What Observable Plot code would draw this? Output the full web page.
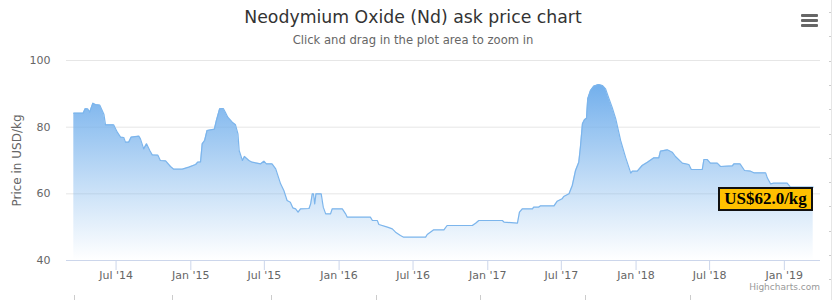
<!DOCTYPE html>
<html>
<head>
<meta charset="utf-8">
<script src="https://cdn.jsdelivr.net/npm/d3@7"></script>
<script src="https://cdn.jsdelivr.net/npm/@observablehq/plot@0.6"></script>
<style>
  body { margin: 0; background: #fff; font-family: "Lucida Grande", "DejaVu Sans", sans-serif; }
  #wrap { position: relative; width: 832px; height: 300px; overflow: hidden; }
  #head { position: relative; height: 48px; }
  #title { position: absolute; left: 0; top: 6px; width: 826px; text-align: center; font-size: 17.3px; line-height: 22px; color: #333; }
  #sub { position: absolute; left: 0; top: 32px; width: 826px; text-align: center; font-size: 11.6px; line-height: 16px; color: #666; }
  #menu { position: absolute; left: 801px; top: 14px; width: 17px; }
  #menu div { height: 3px; background: #666; margin-bottom: 2px; border-radius: 1px; }
  #credit { position: absolute; right: 12px; top: 282px; font-size: 9px; line-height: 11px; color: #999; }
  #badge { position: absolute; left: 718px; top: 187px; width: 95px; height: 24px; box-sizing: border-box;
           background: #ffc000; border: 2px solid #111; font-family: "Liberation Serif", "Times New Roman", serif;
           font-weight: bold; font-size: 17px; line-height: 20px; text-align: center; color: #000; }
  #edge { position: absolute; left: 831px; top: 0; width: 1px; height: 300px; background: #e6e6e6; }
  .rt { position: absolute; left: 829px; width: 2px; height: 1px; background: #ccc; }
  .bt { position: absolute; top: 295px; width: 1px; height: 5px; background: #ccc; }
  #chart svg { display: block; }
</style>
</head>
<body>
<div id="wrap">
  <div id="head">
    <div id="title">Neodymium Oxide (Nd) ask price chart</div>
    <div id="sub">Click and drag in the plot area to zoom in</div>
    <div id="menu"><div></div><div></div><div></div></div>
  </div>
  <div id="chart"></div>
  <div id="badge">US$62.0/kg</div>
  <div id="credit">Highcharts.com</div>
  <div id="edge"></div>
</div>
<script>
const dates = [
  "2014-03-19","2014-04-11","2014-04-16","2014-04-22","2014-04-27","2014-05-05","2014-05-11","2014-05-22",
  "2014-06-01","2014-06-05","2014-06-25","2014-07-04","2014-07-12","2014-07-20","2014-07-24","2014-08-01",
  "2014-08-07","2014-08-26","2014-08-30","2014-09-07","2014-09-14","2014-09-22","2014-09-28","2014-10-12",
  "2014-10-18","2014-10-31","2014-11-12","2014-11-20","2014-12-11","2014-12-27","2015-01-13","2015-01-18",
  "2015-01-25","2015-01-29","2015-02-04","2015-02-10","2015-02-28","2015-03-05","2015-03-13","2015-03-22",
  "2015-03-27","2015-04-02","2015-04-13","2015-04-21","2015-04-27","2015-04-30","2015-05-08","2015-05-13",
  "2015-05-24","2015-06-01","2015-06-22","2015-06-30","2015-07-06","2015-07-20","2015-07-29","2015-08-02",
  "2015-08-10","2015-08-18","2015-08-26","2015-09-03","2015-09-09","2015-09-16","2015-09-22","2015-09-28",
  "2015-10-19","2015-10-23","2015-10-27","2015-10-30","2015-11-02","2015-11-05","2015-11-18","2015-11-23",
  "2015-11-29","2015-12-11","2015-12-15","2016-01-09","2016-01-17","2016-01-21","2016-03-18","2016-03-23",
  "2016-04-04","2016-04-08","2016-04-29","2016-05-11","2016-05-19","2016-05-31","2016-06-08","2016-08-01",
  "2016-08-05","2016-08-21","2016-09-15","2016-09-23","2016-11-24","2016-12-02","2016-12-10","2017-02-06",
  "2017-02-10","2017-03-15","2017-03-20","2017-03-27","2017-04-21","2017-04-24","2017-05-06","2017-05-11",
  "2017-06-13","2017-06-21","2017-07-03","2017-07-07","2017-07-20","2017-07-28","2017-08-05","2017-08-13",
  "2017-08-17","2017-08-22","2017-08-27","2017-09-01","2017-09-04","2017-09-11","2017-09-19","2017-10-01",
  "2017-10-10","2017-10-18","2017-10-25","2017-11-03","2017-11-12","2017-11-24","2017-12-06","2017-12-19",
  "2017-12-23","2018-01-04","2018-01-16","2018-01-29","2018-02-14","2018-02-26","2018-03-02","2018-03-19",
  "2018-03-31","2018-04-08","2018-04-25","2018-05-11","2018-05-17","2018-06-13","2018-06-17","2018-06-25",
  "2018-07-03","2018-07-20","2018-07-28","2018-08-26","2018-08-30","2018-09-14","2018-09-25","2018-10-10",
  "2018-10-18","2018-11-16","2018-11-20","2018-11-28","2018-12-06","2019-01-08","2019-01-16","2019-03-13"
];
const prices = [
  84.2, 84.2, 85.5, 85.5, 84.5, 87.2, 86.8, 86.6,
  83.9, 80.7, 80.7, 78.5, 77.0, 76.9, 75.5, 75.5,
  77.0, 77.3, 76.5, 73.5, 75.0, 73.0, 71.7, 71.6,
  70.0, 69.9, 68.2, 67.4, 67.4, 68.0, 68.8, 69.5,
  69.6, 75.0, 76.0, 79.0, 79.4, 82.0, 85.5, 85.6,
  84.5, 83.0, 81.5, 80.7, 78.0, 73.0, 70.0, 71.2,
  70.0, 69.5, 69.0, 69.8, 69.0, 69.0, 67.5, 66.0,
  63.0, 61.0, 58.0, 57.5, 55.8, 55.5, 54.5, 55.5,
  55.6, 57.0, 60.0, 60.0, 57.0, 60.0, 60.0, 56.0,
  54.0, 54.0, 55.5, 55.5, 54.0, 53.0, 53.0, 52.0,
  52.0, 50.8, 50.0, 49.5, 48.5, 47.5, 47.0, 47.0,
  47.8, 49.2, 49.2, 50.5, 50.5, 51.2, 52.0, 52.0,
  51.5, 51.2, 54.5, 55.5, 55.5, 56.0, 56.0, 56.4,
  56.4, 57.8, 58.5, 59.2, 60.0, 62.5, 67.0, 69.5,
  74.0, 81.0, 82.2, 82.7, 88.5, 91.0, 92.3, 92.8,
  92.5, 91.5, 89.0, 86.0, 82.5, 76.0, 71.0, 66.2,
  66.8, 66.8, 68.5, 69.5, 70.8, 70.8, 72.8, 73.2,
  72.5, 71.2, 69.2, 68.8, 67.3, 67.3, 70.3, 70.3,
  69.2, 69.2, 68.2, 68.4, 69.0, 69.0, 67.0, 66.8,
  66.3, 66.3, 64.8, 63.0, 63.2, 63.2, 62.0, 62.0
];
const tickDates = ["2014-07-01","2015-01-01","2015-07-01","2016-01-01","2016-07-01",
                   "2017-01-01","2017-07-01","2018-01-01","2018-07-01","2019-01-01"];
const tickLabels = ["Jul '14","Jan '15","Jul '15","Jan '16","Jul '16",
                    "Jan '17","Jul '17","Jan '18","Jul '18","Jan '19"];
const yTicks = [40, 60, 80, 100];
const yGrid = [60, 80, 100];
const yLabel = "Price in USD/kg";

const data = dates.map((d, i) => ({date: new Date(d), price: prices[i]}));
const ticks = tickDates.map(d => new Date(d));
const labelOf = new Map(ticks.map((d, i) => [+d, tickLabels[i]]));

// page decoration (scroll-track marks at the right edge and bottom of the screenshot)
const wrap = document.getElementById("wrap");
for (let k = 0; k < 12; k++) {
  const t = document.createElement("div"); t.className = "rt"; t.style.top = (12 + k * 24.3).toFixed(1) + "px"; wrap.appendChild(t);
}
[74, 172, 271, 376, 480, 585, 690].forEach(x => {
  const t = document.createElement("div"); t.className = "bt"; t.style.left = x + "px"; wrap.appendChild(t);
});

const gradientDefs = () => {
  const defs = d3.create("svg:defs");
  const lg = defs.append("linearGradient").attr("id", "ndFill")
    .attr("x1", 0).attr("y1", 0).attr("x2", 0).attr("y2", 1);
  lg.append("stop").attr("offset", 0).attr("stop-color", "#72afec").attr("stop-opacity", 1);
  lg.append("stop").attr("offset", 1).attr("stop-color", "#7cb5ec").attr("stop-opacity", 0);
  return defs.node();
};

const chart = Plot.plot({
  width: 832,
  height: 252,
  marginTop: 12,
  marginBottom: 40,
  marginLeft: 66,
  marginRight: 12,
  style: {fontFamily: '"Lucida Grande", "DejaVu Sans", sans-serif', fontSize: "11px", background: "transparent", overflow: "visible"},
  x: {type: "utc", domain: [new Date("2014-03-01"), new Date("2019-03-31")]},
  y: {domain: [40, 100]},
  marks: [
    gradientDefs,
    Plot.gridY(yGrid, {stroke: "#e6e6e6", strokeOpacity: 1}),
    Plot.areaY(data, {x: "date", y1: 40, y2: "price", fill: "url(#ndFill)"}),
    Plot.lineY(data, {x: "date", y: "price", stroke: "#7cb5ec", strokeWidth: 1.2}),
    Plot.ruleY([40], {stroke: "#ccd6eb"}),
    Plot.axisX(ticks, {tickFormat: d => labelOf.get(+d), tickSize: 10, tickPadding: 1, stroke: "#ccd6eb", fill: "#666", label: null}),
    Plot.axisY(yTicks, {tickSize: 0, tickPadding: 16, fill: "#666", label: null}),
    Plot.text([yLabel], {frameAnchor: "left", textAnchor: "middle", rotate: -90, dx: -49, fontSize: 12, fill: "#666"})
  ]
});
document.getElementById("chart").appendChild(chart);
</script>
</body>
</html>
